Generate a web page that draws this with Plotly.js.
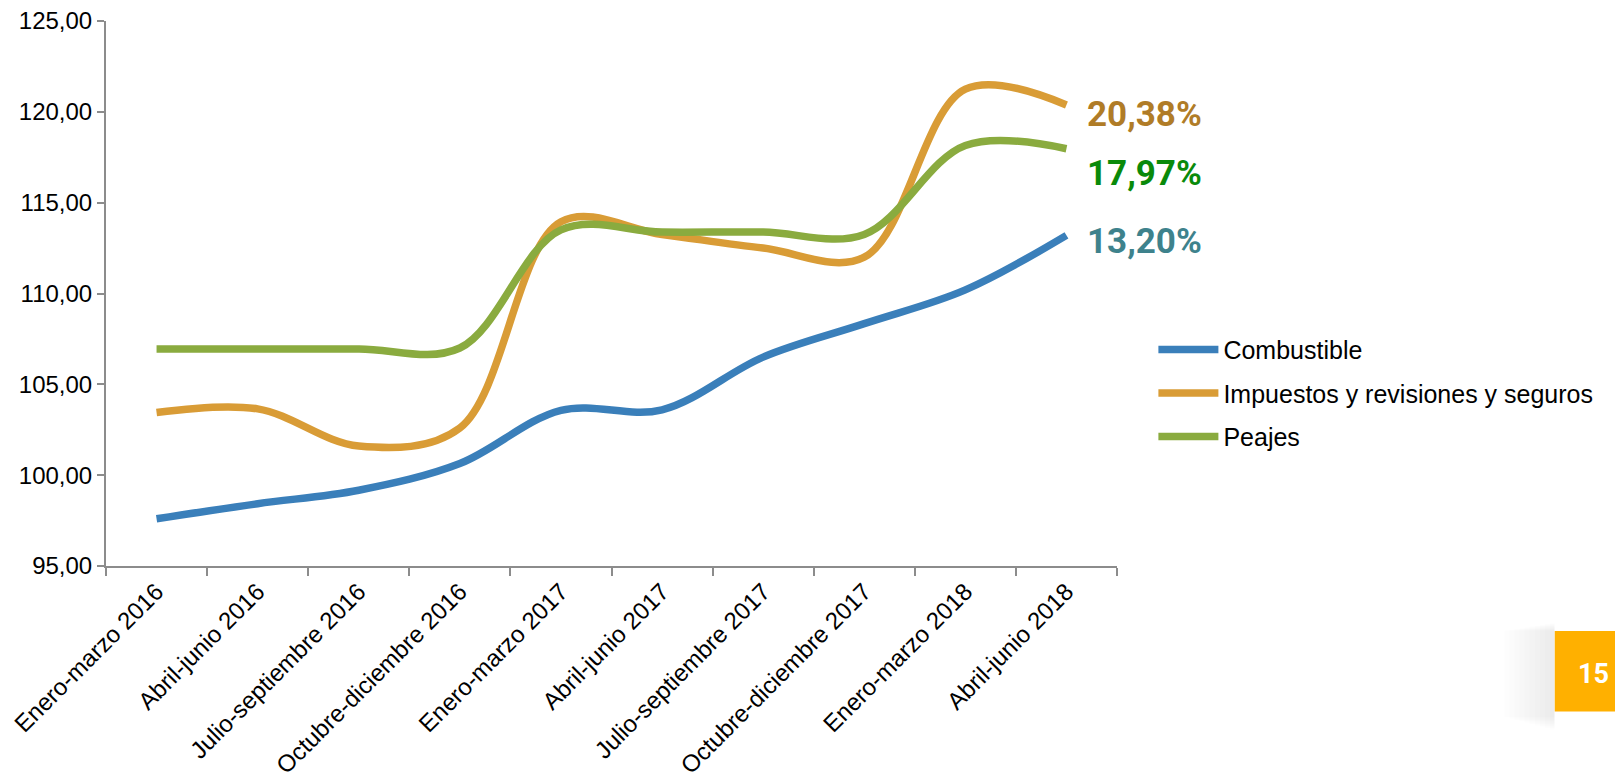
<!DOCTYPE html>
<html>
<head>
<meta charset="utf-8">
<script src="https://cdn.plot.ly/plotly-3.0.1.min.js"></script>
<style>
  html, body { margin: 0; padding: 0; background: #ffffff; }
  #chart { width: 1615px; height: 773px; }
</style>
</head>
<body>
<div id="chart"></div>
<script>
const categories = [
  "Enero-marzo 2016", "Abril-junio 2016", "Julio-septiembre 2016", "Octubre-diciembre 2016",
  "Enero-marzo 2017", "Abril-junio 2017", "Julio-septiembre 2017", "Octubre-diciembre 2017",
  "Enero-marzo 2018", "Abril-junio 2018"
];
const combustible = [97.60, 98.43, 99.17, 100.64, 103.57, 103.60, 106.50, 108.34, 110.20, 113.20];
const impuestos   = [103.45, 103.65, 101.60, 102.60, 113.95, 113.25, 112.50, 112.00, 121.25, 120.38];
const peajes      = [106.95, 106.95, 106.95, 107.00, 113.50, 113.38, 113.38, 113.25, 118.15, 117.97];
const seriesNames = ["Combustible", "Impuestos y revisiones y seguros", "Peajes"];
const yTicks = [95, 100, 105, 110, 115, 120, 125];
const pageNumber = "15";

const lineColors = ["#3A7FBA", "#D99C36", "#8AAB3F"];
const labelColors = ["#3E828C", "#B07C27", "#0A8A0A"];
const allSeries = [combustible, impuestos, peajes];

const traces = allSeries.map((vals, i) => ({
  type: "scatter",
  mode: "lines",
  x: categories,
  y: vals,
  name: seriesNames[i],
  legendgroup: "g" + i,
  line: { color: lineColors[i], width: 7.5, shape: "spline", smoothing: 1 },
  hoverinfo: "skip"
}));

function pct(vals) {
  return (vals[vals.length - 1] - 100).toFixed(2).replace(".", ",") + "%";
}

// label positions (y in data units) for the end-of-line percentages
const labelY = [112.85, 119.85, 116.6];
const annotations = allSeries.map((vals, i) => ({
  xref: "paper", yref: "y",
  x: 0.968, y: labelY[i],
  xanchor: "left", yanchor: "middle",
  text: "<b>" + pct(vals) + "</b>",
  showarrow: false,
  font: { family: "Roboto, 'Open Sans', sans-serif", size: 35, color: labelColors[i] }
}));

annotations.push({
  xref: "paper", yref: "paper",
  x: 1.489, y: -0.198,
  xanchor: "right", yanchor: "middle",
  text: "<b>" + pageNumber + "</b>",
  showarrow: false,
  font: { family: "Roboto, sans-serif", size: 27, color: "#ffffff" }
});

const shapes = [];
// soft shadow around the page badge
for (let k = 0; k < 10; k++) {
  shapes.push({
    type: "rect", xref: "paper", yref: "paper",
    x0: 1.433 - 0.005 * (k + 1), x1: 1.433, y0: -0.30 + 0.0025 * k, y1: -0.105 - 0.0015 * k,
    fillcolor: "rgba(0,0,0,0.008)", line: { width: 0 }, layer: "below"
  });
}
shapes.push({
  type: "rect", xref: "paper", yref: "paper",
  x0: 1.433, x1: 1.52, y0: -0.267, y1: -0.1193,
  fillcolor: "#FFB000", line: { width: 0 }
});

const layout = {
  width: 1615, height: 773,
  margin: { l: 106, r: 498, t: 21, b: 207, pad: 0 },
  paper_bgcolor: "#ffffff",
  plot_bgcolor: "#ffffff",
  separators: ",.",
  font: { family: "'Liberation Sans', Arial, sans-serif", size: 24, color: "#000000" },
  showlegend: true,
  legend: {
    x: 1.036, y: 0.317, xanchor: "left", yanchor: "middle",
    font: { family: "'Liberation Sans', Arial, sans-serif", size: 25, color: "#000000" },
    itemwidth: 60,
    tracegroupgap: 8,
    bgcolor: "rgba(0,0,0,0)"
  },
  xaxis: {
    type: "category",
    range: [-0.5, 9.5],
    showline: true, linecolor: "#8c8c8c", linewidth: 2,
    showgrid: false, zeroline: false,
    ticks: "outside", ticklen: 8, tickwidth: 2, tickcolor: "#8c8c8c",
    tickson: "boundaries",
    tickangle: -45,
    tickfont: { family: "'Liberation Sans', Arial, sans-serif", size: 24, color: "#000000" },
    fixedrange: true
  },
  yaxis: {
    range: [95, 125],
    tickvals: yTicks,
    tickformat: ".2f",
    showline: true, linecolor: "#8c8c8c", linewidth: 2,
    showgrid: false, zeroline: false,
    ticks: "outside", ticklen: 7, tickwidth: 2, tickcolor: "#8c8c8c",
    tickfont: { family: "'Liberation Sans', Arial, sans-serif", size: 24, color: "#000000" },
    fixedrange: true
  },
  annotations: annotations,
  shapes: shapes
};

Plotly.newPlot("chart", traces, layout, { displayModeBar: false, staticPlot: true });
</script>
</body>
</html>
